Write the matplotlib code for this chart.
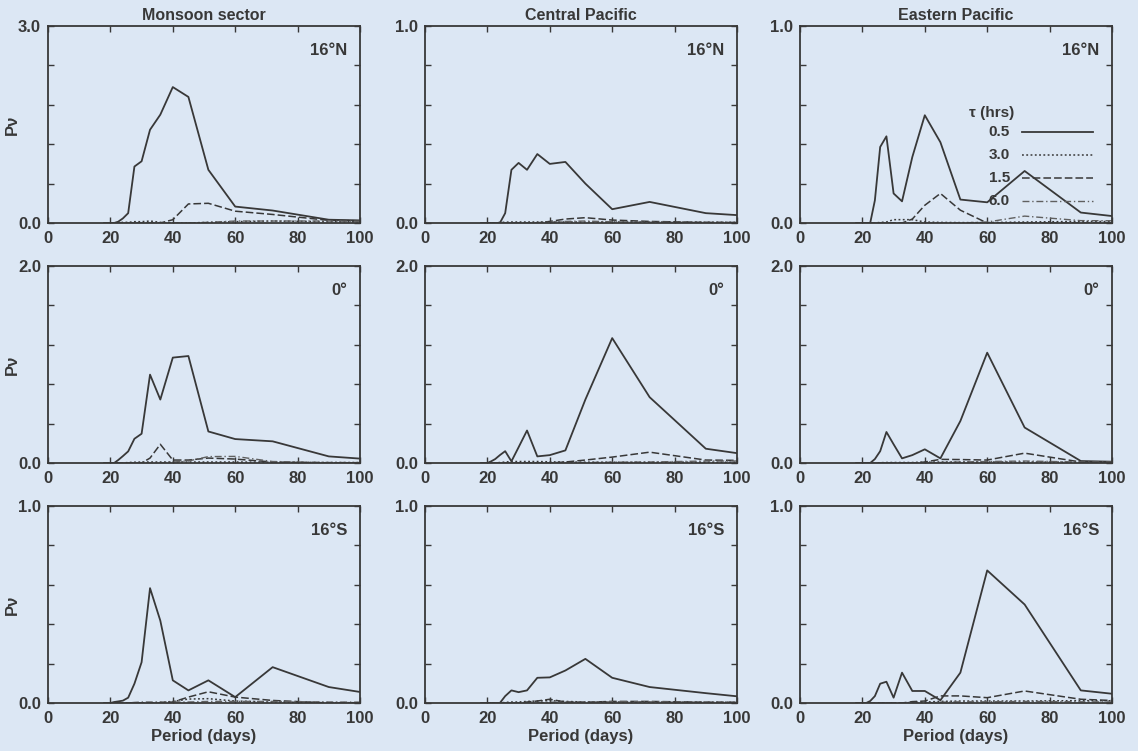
import matplotlib
matplotlib.use("Agg")
import matplotlib.pyplot as plt

# periods (days) = 360/k, k = 20..3
period = [18.0, 18.9, 20.0, 21.2, 22.5, 24.0, 25.7, 27.7, 30.0, 32.7,
          36.0, 40.0, 45.0, 51.4, 60.0, 72.0, 90.0, 120.0]

columns = ["Monsoon sector", "Central Pacific", "Eastern Pacific"]
rows = ["16°N", "0°", "16°S"]
ymax = [[3.0, 1.0, 1.0], [2.0, 2.0, 2.0], [1.0, 1.0, 1.0]]
taus = ["0.5", "3.0", "1.5", "6.0"]

# Pv for tau = 0.5, 3.0, 1.5, 6.0 h, per panel [row][col]
pv = [
    [  # 16N
        [[0, 0, 0, 0, 0.02, 0.07, 0.15, 0.86, 0.94, 1.42, 1.65, 2.07, 1.92, 0.81, 0.25, 0.19, 0.05, 0.02],
         [0, 0, 0, 0, 0, 0.01, 0.01, 0.02, 0.02, 0.03, 0.01, 0.0, 0.0, 0.01, 0.02, 0.03, 0.02, 0.01],
         [0, 0, 0, 0, 0, 0, 0, 0, 0, 0, 0.0, 0.05, 0.29, 0.30, 0.18, 0.13, 0.04, 0.02],
         [0, 0, 0, 0, 0, 0, 0, 0, 0, 0, 0, 0.0, 0.0, 0.01, 0.03, 0.03, 0.03, 0.02]],
        [[0, 0, 0, 0, 0, 0.0, 0.05, 0.27, 0.305, 0.27, 0.35, 0.30, 0.31, 0.20, 0.07, 0.107, 0.05, 0.02],
         [0, 0, 0, 0, 0, 0.003, 0.004, 0.005, 0.005, 0.005, 0.005, 0.005, 0.005, 0.005, 0.005, 0.005, 0.004, 0.003],
         [0, 0, 0, 0, 0, 0, 0, 0, 0, 0, 0.0, 0.008, 0.02, 0.027, 0.015, 0.008, 0.003, 0.0],
         [0, 0, 0, 0, 0, 0, 0, 0, 0, 0, 0.002, 0.004, 0.008, 0.01, 0.006, 0.004, 0.003, 0.002]],
        [[0, 0, 0, 0, 0.0, 0.115, 0.386, 0.44, 0.15, 0.11, 0.335, 0.547, 0.41, 0.119, 0.105, 0.264, 0.053, 0.0],
         [0, 0, 0, 0, 0, 0, 0.003, 0.005, 0.017, 0.017, 0.017, 0.005, 0.003, 0.002, 0.002, 0.005, 0.008, 0.005],
         [0, 0, 0, 0, 0, 0, 0, 0, 0, 0.0, 0.02, 0.09, 0.15, 0.065, 0.0, 0.0, 0.0, 0.0],
         [0, 0, 0, 0, 0, 0, 0, 0, 0, 0, 0, 0, 0, 0.0, 0.005, 0.035, 0.012, 0.01]],
    ],
    [  # 0
        [[0, 0, 0, 0, 0.03, 0.07, 0.118, 0.246, 0.297, 0.897, 0.644, 1.07, 1.086, 0.32, 0.243, 0.22, 0.067, 0.0],
         [0, 0, 0, 0, 0, 0, 0.005, 0.008, 0.01, 0.01, 0.01, 0.01, 0.01, 0.01, 0.01, 0.008, 0.005, 0.003],
         [0, 0, 0, 0, 0, 0, 0, 0, 0.0, 0.05, 0.19, 0.03, 0.03, 0.05, 0.04, 0.01, 0.0, 0.0],
         [0, 0, 0, 0, 0, 0, 0, 0, 0, 0, 0, 0.01, 0.02, 0.065, 0.067, 0.015, 0.005, 0.003]],
        [[0, 0, 0, 0.017, 0.04, 0.08, 0.12, 0.017, 0.16, 0.33, 0.067, 0.08, 0.128, 0.644, 1.268, 0.668, 0.145, 0.01],
         [0, 0, 0, 0, 0, 0.005, 0.01, 0.015, 0.015, 0.015, 0.015, 0.012, 0.01, 0.008, 0.008, 0.008, 0.008, 0.008],
         [0, 0, 0, 0, 0, 0, 0, 0, 0, 0, 0, 0, 0.01, 0.03, 0.06, 0.11, 0.03, 0.02],
         [0, 0, 0, 0, 0, 0, 0, 0, 0, 0, 0, 0, 0, 0.005, 0.008, 0.01, 0.02, 0.02]],
        [[0, 0, 0, 0, 0.0, 0.04, 0.12, 0.315, 0.19, 0.047, 0.08, 0.139, 0.047, 0.426, 1.12, 0.36, 0.02, 0.0],
         [0, 0, 0, 0, 0, 0, 0.003, 0.005, 0.005, 0.005, 0.005, 0.008, 0.01, 0.01, 0.01, 0.01, 0.008, 0.005],
         [0, 0, 0, 0, 0, 0, 0, 0, 0, 0, 0, 0.01, 0.037, 0.035, 0.03, 0.1, 0.01, 0.01],
         [0, 0, 0, 0, 0, 0, 0, 0, 0, 0, 0, 0, 0.005, 0.01, 0.015, 0.02, 0.01, 0.008]],
    ],
    [  # 16S
        [[0, 0, 0, 0.005, 0.008, 0.012, 0.027, 0.098, 0.207, 0.583, 0.418, 0.115, 0.064, 0.115, 0.03, 0.182, 0.081, 0.006],
         [0, 0, 0, 0, 0, 0, 0, 0, 0, 0, 0.003, 0.008, 0.02, 0.022, 0.01, 0.005, 0.002, 0.0],
         [0, 0, 0, 0, 0, 0, 0, 0, 0, 0, 0, 0.005, 0.03, 0.057, 0.03, 0.013, 0.0, 0.0],
         [0, 0, 0, 0, 0, 0, 0, 0.003, 0.005, 0.005, 0.005, 0.005, 0.005, 0.008, 0.008, 0.008, 0.005, 0.003]],
        [[0, 0, 0, 0, 0, 0.0, 0.035, 0.064, 0.055, 0.064, 0.128, 0.13, 0.165, 0.224, 0.128, 0.081, 0.05, 0.002],
         [0, 0, 0, 0, 0, 0, 0.003, 0.005, 0.005, 0.008, 0.01, 0.012, 0.008, 0.005, 0.005, 0.005, 0.004, 0.003],
         [0, 0, 0, 0, 0, 0, 0, 0, 0, 0.005, 0.01, 0.019, 0.005, 0.004, 0.008, 0.008, 0.004, 0.002],
         [0, 0, 0, 0, 0, 0, 0, 0, 0, 0, 0, 0.004, 0.004, 0.004, 0.006, 0.006, 0.004, 0.002]],
        [[0, 0, 0, 0, 0.01, 0.035, 0.098, 0.108, 0.027, 0.154, 0.061, 0.061, 0.014, 0.154, 0.673, 0.5, 0.064, 0.013],
         [0, 0, 0, 0, 0, 0, 0, 0, 0, 0, 0.003, 0.005, 0.008, 0.01, 0.01, 0.01, 0.012, 0.01],
         [0, 0, 0, 0, 0, 0, 0, 0, 0, 0, 0.007, 0.01, 0.036, 0.036, 0.027, 0.061, 0.019, 0.0],
         [0, 0, 0, 0, 0, 0, 0, 0, 0, 0, 0, 0, 0.004, 0.006, 0.006, 0.008, 0.006, 0.004]],
    ],
]

bg = "#dce7f4"
ink = "#383838"
styles = [dict(ls="-", lw=1.3, color=ink),
          dict(ls=(0, (1.2, 1.6)), lw=1.1, color=ink),
          dict(ls=(0, (5, 2)), lw=1.1, color=ink),
          dict(ls=(0, (5, 2, 1, 2)), lw=1.0, color="#606060")]

plt.rcParams["font.family"] = ["Liberation Sans", "DejaVu Sans"]
plt.rcParams["font.weight"] = "bold"

fig = plt.figure(figsize=(11.38, 7.51), dpi=100, facecolor=bg)
W, H = 1138.0, 751.0
lefts = [48, 425, 800]
bottoms = [223, 463, 703]
aw, ah = 312, 197

for r in range(3):
    for c in range(3):
        ax = fig.add_axes([lefts[c] / W, 1 - bottoms[r] / H, aw / W, ah / H])
        ax.set_facecolor(bg)
        for s in range(4):
            ax.plot(period, pv[r][c][s], **styles[s])
        top = ymax[r][c]
        ax.set_xlim(0, 100)
        ax.set_ylim(0, top)
        ax.set_xticks([0, 20, 40, 60, 80, 100])
        ax.set_yticks([top * i / 5 for i in range(6)])
        ax.set_yticklabels(["0.0", "", "", "", "", "%.1f" % top])
        ax.tick_params(direction="in", length=4, width=1, colors=ink,
                       top=True, right=True, labelsize=12, pad=5)
        ax.tick_params(axis="x", pad=6)
        for t in ax.get_xticklabels() + ax.get_yticklabels():
            t.set_fontweight("bold")
        for sp in ax.spines.values():
            sp.set_color(ink)
            sp.set_linewidth(1.3)
        ax.text(0.96, 0.875, rows[r], transform=ax.transAxes, ha="right",
                va="center", fontsize=12, fontweight="bold", color=ink)
        if r == 0:
            ax.set_title(columns[c], fontsize=11.5, fontweight="bold",
                         color=ink, pad=4)
        if c == 0:
            ax.set_ylabel("Pν", fontsize=12, fontweight="bold", color=ink,
                          labelpad=-1)
        if r == 2:
            ax.set_xlabel("Period (days)", fontsize=12, fontweight="bold",
                          color=ink, labelpad=2)
        if r == 0 and c == 2:
            ax.text(0.615, 0.56, "τ (hrs)", transform=ax.transAxes,
                    ha="center", va="center", fontsize=11, fontweight="bold",
                    color=ink)
            for i, lab in enumerate(taus):
                yy = 0.46 - i * 0.116
                ax.text(0.605, yy, lab, transform=ax.transAxes, ha="left",
                        va="center", fontsize=11, fontweight="bold", color=ink)
                ax.plot([0.71, 0.94], [yy, yy], transform=ax.transAxes,
                        **styles[i])

fig.savefig("out.png", dpi=100, facecolor=bg)
